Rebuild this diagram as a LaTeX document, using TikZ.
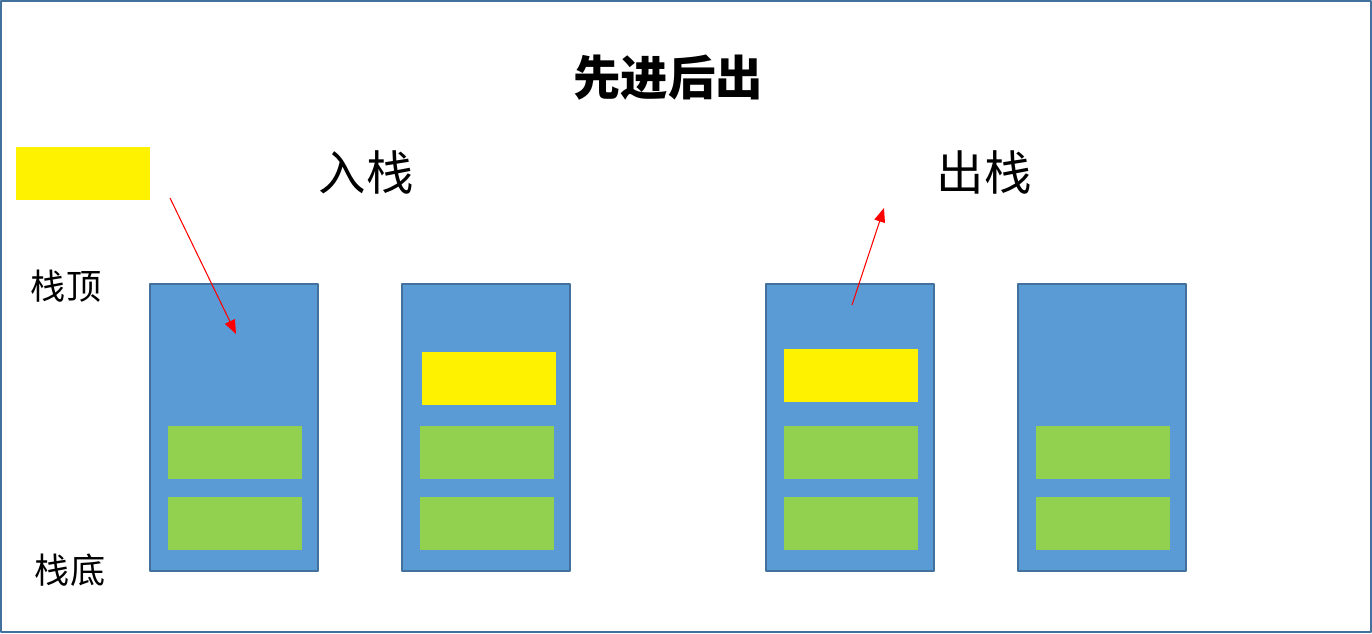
\documentclass[tikz,border=0pt]{standalone}
\usepackage{fontspec}
\newfontfamily\cjk{Noto Sans CJK SC}
\usetikzlibrary{arrows.meta}
\definecolor{stackblue}{HTML}{5B9BD5}
\definecolor{edgeblue}{HTML}{41719C}
\definecolor{elemgreen}{HTML}{92D050}
\begin{document}
\begin{tikzpicture}[x=0.02cm, y=-0.02cm, line join = round,
  stack/.style={draw=edgeblue, fill=stackblue, line width=1.1pt, inner sep=0pt, anchor=north west, minimum width=3.36cm, minimum height=5.74cm},
  elem/.style={fill=elemgreen, inner sep=0pt, anchor=north west, minimum width=2.68cm, minimum height=1.05cm},
  newelem/.style={fill=yellow, inner sep=0pt, anchor=north west, minimum width=2.68cm, minimum height=1.05cm},
  push/.style={red, line width=0.6pt, -{Triangle[length=0.28cm, width=0.22cm]}},
  big/.style={font=\cjk\fontsize{27}{27}\selectfont, inner sep=0pt},
  side/.style={font=\cjk\fontsize{20}{20}\selectfont, inner sep=0pt}]
      \useasboundingbox (0,0) rectangle (1372,633);
      \draw[edgeblue, line width=1.2pt] (1,1) rectangle (1371,632);

      \node[big, font=\cjk\bfseries\fontsize{27}{27}\selectfont] (title) at (668,78) {先进后出};
      \node[big] (inlabel) at (366,172) {入栈};
      \node[big] (outlabel) at (984,172) {出栈};
      \node[side] (top) at (66,286) {栈顶};
      \node[side] (bottom) at (70,570) {栈底};

      \node[newelem] (incoming) at (16,147) {};

      \node[stack] (s1) at (149,283) {};
      \node[stack] (s2) at (401,283) {};
      \node[stack] (s3) at (765,283) {};
      \node[stack] (s4) at (1017,283) {};

      \node[elem] (a1) at (168,426) {};
      \node[elem] (b1) at (168,497) {};
      \node[elem] (a2) at (420,426) {};
      \node[elem] (b2) at (420,497) {};
      \node[elem] (a3) at (784,426) {};
      \node[elem] (b3) at (784,497) {};
      \node[elem] (a4) at (1036,426) {};
      \node[elem] (b4) at (1036,497) {};

      \node[newelem] (c2) at (422,352) {};
      \node[newelem] (c3) at (784,349) {};

      \coordinate (instart) at (170,198);
      \coordinate (inend) at (236,334);
      \coordinate (outstart) at (852,305);
      \coordinate (outend) at (884,208);
      \draw[push] (instart)--(inend);
      \draw[push] (outstart)--(outend);
    \end{tikzpicture}
\end{document}
